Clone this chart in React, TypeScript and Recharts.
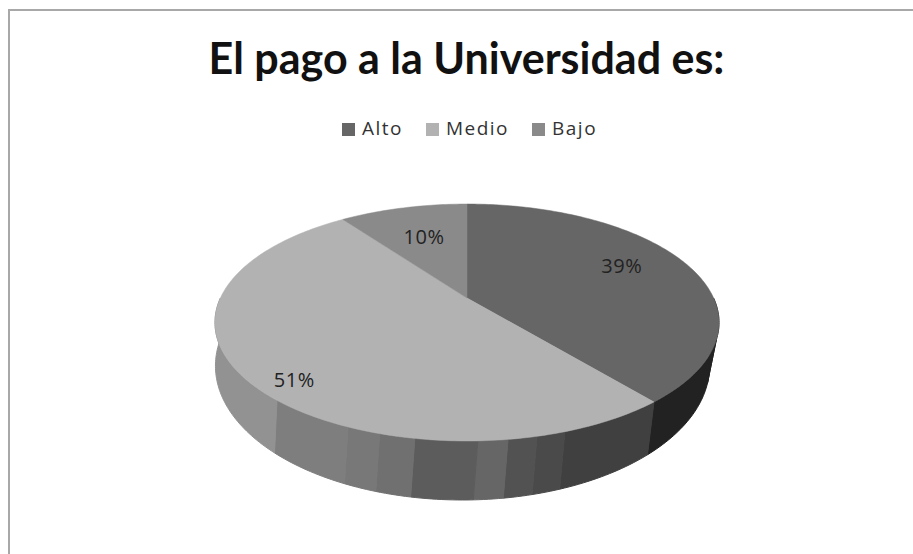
import { PieChart, Pie, Cell, Legend } from "recharts";

const categories = ["Alto", "Medio", "Bajo"];
const shares = [39, 51, 10];
const sliceColors = ["#666666", "#b2b2b2", "#8a8a8a"];

// side wall shading bands, degrees going clockwise from 12 o'clock. first and last are behind the pie
const wallSweeps = [90, 20, 30.4, 21, 5.5, 5.5, 5.6, 11.7, 6.8, 6.5, 17.5, 49.5, 90];
const wallColors = [
  "none", "#2b2b2b", "#222222", "#404040", "#4a4a4a", "#525252", "#666666",
  "#5c5c5c", "#707070", "#787878", "#7e7e7e", "#929292", "none",
];

const pieData = categories.map((name, i) => ({ name, value: shares[i] }));
const wallData = wallSweeps.map((value, i) => ({ name: `w${i}`, value }));

const labelNudge = [
  [0, -7],
  [-23, 28],
  [4, 5],
];

// perspective of the top face. cx/cy of the pie is the vanishing centre, not the ellipse centre
const TOP = { cx: 467, cy: 298, rx: 246.6, ry: 113.4, p: 0.2068 };
const BOTTOM = { cx: 462.5, cy: 336.4, rx: 241, ry: 127.6, p: 0.22 };

type Face = typeof TOP;

const project = (f: Face, deg: number, r = 1) => {
  const a = (deg * Math.PI) / 180;
  const u = Math.sin(a) * r;
  const v = Math.cos(a) * r;
  const w = 1 + f.p * v;
  return [f.cx + (f.rx * u) / w, f.cy - (f.ry * v) / w];
};

const arc = (f: Face, from: number, to: number) => {
  const pts: string[] = [];
  const n = Math.max(2, Math.ceil(Math.abs(to - from)));
  for (let i = 0; i <= n; i++) {
    const [x, y] = project(f, from + ((to - from) * i) / n);
    pts.push(`${x.toFixed(2)} ${y.toFixed(2)}`);
  }
  return pts.join(" L ");
};

function TopSlice(props: any) {
  const from = 90 - props.startAngle;
  const to = 90 - props.endAngle;
  return (
    <path
      d={`M ${TOP.cx} ${TOP.cy} L ${arc(TOP, from, to)} Z`}
      fill={props.fill}
      stroke={props.fill}
      strokeWidth={0.5}
    />
  );
}

function WallBand(props: any) {
  if (props.fill === "none") return <g />;
  const from = 90 - props.startAngle;
  const to = 90 - props.endAngle;
  return (
    <path
      d={`M ${arc(TOP, from, to)} L ${arc(BOTTOM, to, from)} Z`}
      fill={props.fill}
      stroke={props.fill}
      strokeWidth={1}
    />
  );
}

const renderLabel = (props: any) => {
  const [x, y] = project(TOP, 90 - props.midAngle, 0.7);
  const [dx, dy] = labelNudge[props.index];
  return (
    <text
      x={x + dx}
      y={y + dy}
      textAnchor="middle"
      dominantBaseline="central"
      fontSize={20}
      letterSpacing={0.6}
      fill="#222222"
      fontFamily="'Open Sans', sans-serif"
    >
      {shares[props.index]}%
    </text>
  );
};

export default function App() {
  return (
    <div style={{ position: "absolute", left: 0, top: 0, width: 913, height: 554, background: "#fff", overflow: "hidden" }}>
      <div style={{ position: "absolute", left: 8, top: 9, width: 905, height: 545, borderLeft: "2px solid #a8a8a8", borderTop: "2px solid #a8a8a8", boxSizing: "border-box" }} />
      <div
        style={{
          position: "absolute", left: 0, top: 33, width: 933, textAlign: "center",
          fontFamily: "Lato, sans-serif", fontWeight: 700, fontSize: 43, lineHeight: "50px", color: "#111111",
        }}
      >
        El pago a la Universidad es:
      </div>
      <PieChart width={913} height={554} style={{ position: "absolute", left: 0, top: 0 }}>
        <Legend
          verticalAlign="top"
          iconType="square"
          iconSize={13}
          itemSorter={null}
          wrapperStyle={{ top: 115, left: 0, width: 962, fontFamily: "'Open Sans', sans-serif", fontSize: 19, letterSpacing: 1.5 }}
          formatter={(value) => <span style={{ color: "#333333", marginLeft: 3, marginRight: 13 }}>{value}</span>}
        />
        <Pie
          data={wallData}
          dataKey="value"
          cx={TOP.cx}
          cy={TOP.cy}
          outerRadius={TOP.rx}
          startAngle={90}
          endAngle={-270}
          legendType="none"
          shape={WallBand}
          isAnimationActive={false}
        >
          {wallData.map((_, i) => (
            <Cell key={i} fill={wallColors[i]} />
          ))}
        </Pie>
        <Pie
          data={pieData}
          dataKey="value"
          nameKey="name"
          cx={TOP.cx}
          cy={TOP.cy}
          outerRadius={TOP.rx}
          startAngle={90}
          endAngle={-270}
          shape={TopSlice}
          label={renderLabel}
          labelLine={false}
          isAnimationActive={false}
        >
          {pieData.map((_, i) => (
            <Cell key={i} fill={sliceColors[i]} />
          ))}
        </Pie>
      </PieChart>
    </div>
  );
}
